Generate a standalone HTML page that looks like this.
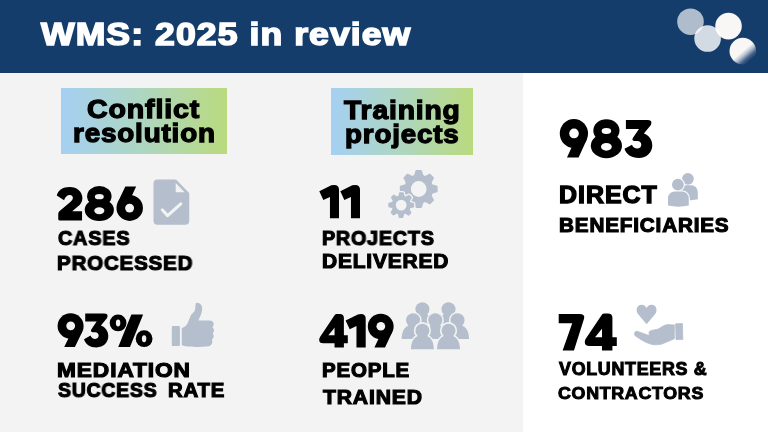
<!DOCTYPE html>
<html><head><meta charset="utf-8"><title>WMS: 2025 in review</title>
<style>
html,body{margin:0;padding:0}
body{width:768px;height:432px;overflow:hidden;position:relative;background:#fff;font-family:"Liberation Sans",sans-serif}
.hdr{position:absolute;left:0;top:0;width:768px;height:72.8px;background:#143d6b}
.left{position:absolute;left:0;top:72.8px;width:522.5px;height:359.2px;background:#f3f3f3}
.gb{position:absolute;background:linear-gradient(90deg,#a5d0f2 0%,#aed6c0 50%,#b9da7e 100%)}
.t{position:absolute;white-space:nowrap;line-height:1;font-weight:bold;transform-origin:0 0;paint-order:stroke fill;will-change:transform;-webkit-font-smoothing:antialiased}
.ic{position:absolute;left:0;top:0}
</style></head><body>
<div class="hdr"></div>
<div class="left"></div>
<div class="gb" style="left:61px;top:88px;width:166px;height:66px"></div>
<div class="gb" style="left:331px;top:88px;width:142px;height:67px"></div>
<svg class="ic" width="768" height="432" viewBox="0 0 768 432">
<defs>
<linearGradient id="g4" x1="0.175" y1="0.12" x2="0.825" y2="0.88"><stop offset="0" stop-color="#f8f7f6"/><stop offset="0.5" stop-color="#f8f7f6"/><stop offset="0.65" stop-color="#b3bfce"/><stop offset="0.81" stop-color="#45638a"/><stop offset="0.95" stop-color="#143d6b"/></linearGradient>
</defs>
<circle cx="690.5" cy="21.7" r="13.3" fill="#fff" fill-opacity="0.66"/>
<circle cx="728.5" cy="26.1" r="13.3" fill="#f8f7f6"/>
<circle cx="707.6" cy="38.5" r="13.3" fill="#fff" fill-opacity="0.81"/>
<circle cx="742.8" cy="51.1" r="13.3" fill="url(#g4)"/>
<path d="M157.5 179.5 H175 Q176 179.5 176.8 180.3 L188.4 192.3 Q189.25 193.2 189.25 194.3 V220.8 a4 4 0 0 1 -4 4 H157.5 a4 4 0 0 1 -4 -4 V183.5 a4 4 0 0 1 4 -4 Z" fill="#b4becd"/>
<path d="M175.7 183 V192.2 H184.6 Z" fill="#f3f3f3"/>
<path d="M162.4 210 L167.6 215.6 L180.8 203.9" fill="none" stroke="#f3f3f3" stroke-width="3.1" stroke-linecap="round" stroke-linejoin="round"/>
<g fill="#b4becd"><circle cx="418.7" cy="189" r="14.4"/><path d="M416.20 170.10 H421.20 Q421.80 170.10 421.90 170.70 L423.50 175.80 V189.00 H413.90 V175.80 L415.50 170.70 Q415.60 170.10 416.20 170.10 Z" transform="rotate(0.0 418.7 189)"/><path d="M416.20 170.10 H421.20 Q421.80 170.10 421.90 170.70 L423.50 175.80 V189.00 H413.90 V175.80 L415.50 170.70 Q415.60 170.10 416.20 170.10 Z" transform="rotate(45.0 418.7 189)"/><path d="M416.20 170.10 H421.20 Q421.80 170.10 421.90 170.70 L423.50 175.80 V189.00 H413.90 V175.80 L415.50 170.70 Q415.60 170.10 416.20 170.10 Z" transform="rotate(90.0 418.7 189)"/><path d="M416.20 170.10 H421.20 Q421.80 170.10 421.90 170.70 L423.50 175.80 V189.00 H413.90 V175.80 L415.50 170.70 Q415.60 170.10 416.20 170.10 Z" transform="rotate(135.0 418.7 189)"/><path d="M416.20 170.10 H421.20 Q421.80 170.10 421.90 170.70 L423.50 175.80 V189.00 H413.90 V175.80 L415.50 170.70 Q415.60 170.10 416.20 170.10 Z" transform="rotate(180.0 418.7 189)"/><path d="M416.20 170.10 H421.20 Q421.80 170.10 421.90 170.70 L423.50 175.80 V189.00 H413.90 V175.80 L415.50 170.70 Q415.60 170.10 416.20 170.10 Z" transform="rotate(225.0 418.7 189)"/><path d="M416.20 170.10 H421.20 Q421.80 170.10 421.90 170.70 L423.50 175.80 V189.00 H413.90 V175.80 L415.50 170.70 Q415.60 170.10 416.20 170.10 Z" transform="rotate(270.0 418.7 189)"/><path d="M416.20 170.10 H421.20 Q421.80 170.10 421.90 170.70 L423.50 175.80 V189.00 H413.90 V175.80 L415.50 170.70 Q415.60 170.10 416.20 170.10 Z" transform="rotate(315.0 418.7 189)"/></g><circle cx="418.7" cy="189" r="7.9" fill="#f3f3f3"/>
<g fill="#f3f3f3" stroke="#f3f3f3" stroke-width="2.6" stroke-linejoin="round"><circle cx="401.2" cy="205.1" r="9.5"/><path d="M399.65 192.20 H402.75 Q403.35 192.20 403.45 192.80 L404.50 196.80 V205.10 H397.90 V196.80 L398.95 192.80 Q399.05 192.20 399.65 192.20 Z" transform="rotate(1.0 401.2 205.1)"/><path d="M399.65 192.20 H402.75 Q403.35 192.20 403.45 192.80 L404.50 196.80 V205.10 H397.90 V196.80 L398.95 192.80 Q399.05 192.20 399.65 192.20 Z" transform="rotate(46.0 401.2 205.1)"/><path d="M399.65 192.20 H402.75 Q403.35 192.20 403.45 192.80 L404.50 196.80 V205.10 H397.90 V196.80 L398.95 192.80 Q399.05 192.20 399.65 192.20 Z" transform="rotate(91.0 401.2 205.1)"/><path d="M399.65 192.20 H402.75 Q403.35 192.20 403.45 192.80 L404.50 196.80 V205.10 H397.90 V196.80 L398.95 192.80 Q399.05 192.20 399.65 192.20 Z" transform="rotate(136.0 401.2 205.1)"/><path d="M399.65 192.20 H402.75 Q403.35 192.20 403.45 192.80 L404.50 196.80 V205.10 H397.90 V196.80 L398.95 192.80 Q399.05 192.20 399.65 192.20 Z" transform="rotate(181.0 401.2 205.1)"/><path d="M399.65 192.20 H402.75 Q403.35 192.20 403.45 192.80 L404.50 196.80 V205.10 H397.90 V196.80 L398.95 192.80 Q399.05 192.20 399.65 192.20 Z" transform="rotate(226.0 401.2 205.1)"/><path d="M399.65 192.20 H402.75 Q403.35 192.20 403.45 192.80 L404.50 196.80 V205.10 H397.90 V196.80 L398.95 192.80 Q399.05 192.20 399.65 192.20 Z" transform="rotate(271.0 401.2 205.1)"/><path d="M399.65 192.20 H402.75 Q403.35 192.20 403.45 192.80 L404.50 196.80 V205.10 H397.90 V196.80 L398.95 192.80 Q399.05 192.20 399.65 192.20 Z" transform="rotate(316.0 401.2 205.1)"/></g><g fill="#b4becd"><circle cx="401.2" cy="205.1" r="9.5"/><path d="M399.65 192.20 H402.75 Q403.35 192.20 403.45 192.80 L404.50 196.80 V205.10 H397.90 V196.80 L398.95 192.80 Q399.05 192.20 399.65 192.20 Z" transform="rotate(1.0 401.2 205.1)"/><path d="M399.65 192.20 H402.75 Q403.35 192.20 403.45 192.80 L404.50 196.80 V205.10 H397.90 V196.80 L398.95 192.80 Q399.05 192.20 399.65 192.20 Z" transform="rotate(46.0 401.2 205.1)"/><path d="M399.65 192.20 H402.75 Q403.35 192.20 403.45 192.80 L404.50 196.80 V205.10 H397.90 V196.80 L398.95 192.80 Q399.05 192.20 399.65 192.20 Z" transform="rotate(91.0 401.2 205.1)"/><path d="M399.65 192.20 H402.75 Q403.35 192.20 403.45 192.80 L404.50 196.80 V205.10 H397.90 V196.80 L398.95 192.80 Q399.05 192.20 399.65 192.20 Z" transform="rotate(136.0 401.2 205.1)"/><path d="M399.65 192.20 H402.75 Q403.35 192.20 403.45 192.80 L404.50 196.80 V205.10 H397.90 V196.80 L398.95 192.80 Q399.05 192.20 399.65 192.20 Z" transform="rotate(181.0 401.2 205.1)"/><path d="M399.65 192.20 H402.75 Q403.35 192.20 403.45 192.80 L404.50 196.80 V205.10 H397.90 V196.80 L398.95 192.80 Q399.05 192.20 399.65 192.20 Z" transform="rotate(226.0 401.2 205.1)"/><path d="M399.65 192.20 H402.75 Q403.35 192.20 403.45 192.80 L404.50 196.80 V205.10 H397.90 V196.80 L398.95 192.80 Q399.05 192.20 399.65 192.20 Z" transform="rotate(271.0 401.2 205.1)"/><path d="M399.65 192.20 H402.75 Q403.35 192.20 403.45 192.80 L404.50 196.80 V205.10 H397.90 V196.80 L398.95 192.80 Q399.05 192.20 399.65 192.20 Z" transform="rotate(316.0 401.2 205.1)"/></g><circle cx="401.2" cy="205.1" r="5.4" fill="#f3f3f3"/>
<rect x="171.8" y="325.9" width="8.1" height="20.2" rx="1.2" fill="#b4becd"/>
<path d="M181.8 327.9 C184.5 327.5 186.5 325.5 187.8 322.8 L190.8 315.6 C191.8 313.4 194.6 312.4 195.2 309 L195.6 304.2 C195.8 302.6 198.2 302.6 199.6 303.4 C202 304.8 202.6 308 202 311 C201.4 314.4 199.4 317.8 198.4 320.4 L210 320.6 C213 320.8 214.4 323.6 213.4 325.6 L212.4 327.2 C214.2 328.6 214.6 331.2 212.8 333.4 C214.2 335 214 338 211.9 339.7 C212.9 341.6 212.4 344.4 209.6 346 C205 347 192 347.2 187.6 346.6 C185 346.2 183.4 345.4 181.8 344.9 Z" fill="#b4becd"/>
<g fill="#f3f3f3" stroke="#f3f3f3" stroke-width="3.2" stroke-linejoin="round"><circle cx="422.4" cy="309.2" r="7.0"/><path d="M410.90 327.80 C411.20 319.80 413.90 315.30 419.00 314.20 L425.80 314.20 C430.90 315.30 433.60 319.80 433.90 327.80 Z"/></g><g fill="#b4becd"><circle cx="422.4" cy="309.2" r="7.0"/><path d="M410.90 327.80 C411.20 319.80 413.90 315.30 419.00 314.20 L425.80 314.20 C430.90 315.30 433.60 319.80 433.90 327.80 Z"/></g>
<g fill="#f3f3f3" stroke="#f3f3f3" stroke-width="3.2" stroke-linejoin="round"><circle cx="448.5" cy="309.2" r="7.0"/><path d="M437.00 327.80 C437.30 319.80 440.00 315.30 445.10 314.20 L451.90 314.20 C457.00 315.30 459.70 319.80 460.00 327.80 Z"/></g><g fill="#b4becd"><circle cx="448.5" cy="309.2" r="7.0"/><path d="M437.00 327.80 C437.30 319.80 440.00 315.30 445.10 314.20 L451.90 314.20 C457.00 315.30 459.70 319.80 460.00 327.80 Z"/></g>
<g fill="#f3f3f3" stroke="#f3f3f3" stroke-width="3.2" stroke-linejoin="round"><circle cx="413.1" cy="320.3" r="7.0"/><path d="M401.60 338.90 C401.90 330.90 404.60 326.40 409.70 325.30 L416.50 325.30 C421.60 326.40 424.30 330.90 424.60 338.90 Z"/></g><g fill="#b4becd"><circle cx="413.1" cy="320.3" r="7.0"/><path d="M401.60 338.90 C401.90 330.90 404.60 326.40 409.70 325.30 L416.50 325.30 C421.60 326.40 424.30 330.90 424.60 338.90 Z"/></g>
<g fill="#f3f3f3" stroke="#f3f3f3" stroke-width="3.2" stroke-linejoin="round"><circle cx="435.3" cy="320.3" r="7.0"/><path d="M423.80 338.90 C424.10 330.90 426.80 326.40 431.90 325.30 L438.70 325.30 C443.80 326.40 446.50 330.90 446.80 338.90 Z"/></g><g fill="#b4becd"><circle cx="435.3" cy="320.3" r="7.0"/><path d="M423.80 338.90 C424.10 330.90 426.80 326.40 431.90 325.30 L438.70 325.30 C443.80 326.40 446.50 330.90 446.80 338.90 Z"/></g>
<g fill="#f3f3f3" stroke="#f3f3f3" stroke-width="3.2" stroke-linejoin="round"><circle cx="457.5" cy="320.3" r="7.0"/><path d="M446.00 338.90 C446.30 330.90 449.00 326.40 454.10 325.30 L460.90 325.30 C466.00 326.40 468.70 330.90 469.00 338.90 Z"/></g><g fill="#b4becd"><circle cx="457.5" cy="320.3" r="7.0"/><path d="M446.00 338.90 C446.30 330.90 449.00 326.40 454.10 325.30 L460.90 325.30 C466.00 326.40 468.70 330.90 469.00 338.90 Z"/></g>
<g fill="#f3f3f3" stroke="#f3f3f3" stroke-width="3.2" stroke-linejoin="round"><circle cx="422.4" cy="330.7" r="7.0"/><path d="M410.90 349.30 C411.20 341.30 413.90 336.80 419.00 335.70 L425.80 335.70 C430.90 336.80 433.60 341.30 433.90 349.30 Z"/></g><g fill="#b4becd"><circle cx="422.4" cy="330.7" r="7.0"/><path d="M410.90 349.30 C411.20 341.30 413.90 336.80 419.00 335.70 L425.80 335.70 C430.90 336.80 433.60 341.30 433.90 349.30 Z"/></g>
<g fill="#f3f3f3" stroke="#f3f3f3" stroke-width="3.2" stroke-linejoin="round"><circle cx="448.5" cy="330.7" r="7.0"/><path d="M437.00 349.30 C437.30 341.30 440.00 336.80 445.10 335.70 L451.90 335.70 C457.00 336.80 459.70 341.30 460.00 349.30 Z"/></g><g fill="#b4becd"><circle cx="448.5" cy="330.7" r="7.0"/><path d="M437.00 349.30 C437.30 341.30 440.00 336.80 445.10 335.70 L451.90 335.70 C457.00 336.80 459.70 341.30 460.00 349.30 Z"/></g>

<g fill="#b4becd"><circle cx="687.9" cy="178.8" r="5.9"/><path d="M678.0 199.3 V191.79999999999998 a6.6 6.6 0 0 1 6.6 -6.6 H691.1999999999999 a6.6 6.6 0 0 1 6.6 6.6 V199.3 Q687.9 201.5 678.0 199.3 Z"/></g><g fill="#ffffff" stroke="#ffffff" stroke-width="2.2"><circle cx="677.9" cy="184.6" r="5.9"/><path d="M668.0 205.6 V198.2 a6.6 6.6 0 0 1 6.6 -6.6 H682.15 a6.6 6.6 0 0 1 6.6 6.6 V205.6 Q678.375 207.79999999999998 668.0 205.6 Z"/></g><g fill="#b4becd"><circle cx="677.9" cy="184.6" r="5.9"/><path d="M668.0 205.6 V198.2 a6.6 6.6 0 0 1 6.6 -6.6 H682.15 a6.6 6.6 0 0 1 6.6 6.6 V205.6 Q678.375 207.79999999999998 668.0 205.6 Z"/></g>
<path d="M646.6 324.3 L638.4 314.6 C635.6 311 636.2 306.2 640.2 305 C643 304.2 645.6 305.6 646.6 308 C647.6 305.6 650.2 304.2 653 305 C657 306.2 657.6 311 654.8 314.6 Z" fill="#b4becd"/>
<path d="M675.6 323.8 L682.4 323.6 L682.8 339.4 L676 339.5 Z" fill="#b4becd" stroke="#b4becd" stroke-width="0.8" stroke-linejoin="round"/>
<path d="M674.3 325 L667.6 324.6 C664 325 661 327.6 658 329.2 L651.4 330.4 C649.4 330.8 648.6 332.4 649.2 333.8 L649 335.6 L637.6 331.4 C635.2 330.6 633.6 333.4 635 335.6 C640 339.4 647 343.6 653 344.6 C656 345 659 344.8 662 344 L674.3 338.8 Z" fill="#b4becd" stroke="#b4becd" stroke-width="0.8" stroke-linejoin="round"/>
<g fill="#000" transform="translate(56.75 186.90) scale(0.3397 0.3360)"><path d="M0,25.5 C3.5,10 18,0 38,0 C60,0 75.5,14 75.5,33 C75.5,45 70,52 62,58.5 L45.5,72.6 L74.5,72.6 L74.5,100 L9,100 Q4.4,100 4.4,95.5 L4.4,81 Q4.4,75.5 8.5,72 L40,45 C45.5,40.5 47.5,36.5 47.5,32.5 C47.5,27 43.5,24 38.5,24 C30.5,24 25,30 21.5,40 Z"/></g>
<g fill="#000" transform="translate(84.75 186.20) scale(0.3599 0.3460)"><ellipse cx="40.5" cy="29" rx="34" ry="29.3"/><ellipse cx="40.5" cy="68.5" rx="40.5" ry="32"/><ellipse cx="40.5" cy="30.2" rx="12.4" ry="7.6" fill="#f3f3f3"/><ellipse cx="40.5" cy="71" rx="14" ry="10" fill="#f3f3f3"/></g>
<g fill="#000" transform="translate(116.40 186.50) scale(0.3500 0.3430)"><g transform="rotate(180 38.0 50)"><circle cx="38" cy="37.5" r="37.8"/><path d="M19.5,100 L50.5,100 L72.24,53.51 L38,37.5 L32.98,71.18 Z"/><circle cx="38.3" cy="37.0" r="12.8" fill="#f3f3f3"/></g></g>
<g fill="#000" transform="translate(57.50 313.40) scale(0.3447 0.3370)"><circle cx="38" cy="37.5" r="37.8"/><path d="M19.5,100 L50.5,100 L72.24,53.51 L38,37.5 L32.98,71.18 Z"/><circle cx="38.3" cy="37.0" r="12.8" fill="#f3f3f3"/></g>
<g fill="#000" transform="translate(84.00 313.60) scale(0.3320 0.3380)"><path d="M3.7,0 L60,0 Q75,0 69.5,13 L51,35.5 C64,40 73.2,52 73.2,66.5 C73.2,86 58,100 38,100 C18,100 4,90 0,75.6 L19.8,65 C22,71.5 27,75 33.5,75 C40,75 44.2,70.5 44.2,65 C44.2,59 40,54.9 33.5,54.9 L27,54.9 Q18,54 22,47 L38.1,23.2 L3.7,23.2 Z"/></g>
<g fill="#000" transform="translate(109.70 313.60) scale(0.3354 0.3350)"><circle cx="25" cy="28" r="25"/><circle cx="102.6" cy="75" r="25"/><path d="M64.6,2.9 L99.6,2.9 L60.5,100 L25.5,100 Z"/><ellipse cx="25" cy="28" rx="6.6" ry="10.2" fill="#f3f3f3"/><ellipse cx="102.6" cy="75" rx="6.6" ry="10.2" fill="#f3f3f3"/></g>
<g fill="#000" transform="translate(319.30 184.90) scale(0.3339 0.3340)"><path d="M0,19.1 L36,1.3 Q39.5,0 45,0 Q59,0 59,14 L59,100 L31.9,100 L31.9,36 L12.1,45.3 Z"/></g>
<g fill="#000" transform="translate(340.30 184.90) scale(0.3339 0.3340)"><path d="M0,19.1 L36,1.3 Q39.5,0 45,0 Q59,0 59,14 L59,100 L31.9,100 L31.9,36 L12.1,45.3 Z"/></g>
<g fill="#000" transform="translate(319.00 314.10) scale(0.3349 0.3330)"><path d="M47,2.5 Q49,0 52.5,0 L62,0 Q74.3,0 74.3,12 L74.3,63.8 L86,63.8 L86,87.6 L74.3,87.6 L74.3,100 L46.4,100 L46.4,87.6 L13,87.6 Q0,87.6 0.5,76 Q1,71 4,67 Z"/><path d="M27.9,63.8 L46.4,63.8 L46.4,41.2 Z" fill="#f3f3f3"/></g>
<g fill="#000" transform="translate(345.60 314.10) scale(0.3407 0.3330)"><path d="M0,19.1 L36,1.3 Q39.5,0 45,0 Q59,0 59,14 L59,100 L31.9,100 L31.9,36 L12.1,45.3 Z"/></g>
<g fill="#000" transform="translate(367.75 313.80) scale(0.3414 0.3360)"><circle cx="38" cy="37.5" r="37.8"/><path d="M19.5,100 L50.5,100 L72.24,53.51 L38,37.5 L32.98,71.18 Z"/><circle cx="38.3" cy="37.0" r="12.8" fill="#f3f3f3"/></g>
<g fill="#000" transform="translate(559.70 119.20) scale(0.3737 0.3840)"><circle cx="38" cy="37.5" r="37.8"/><path d="M19.5,100 L50.5,100 L72.24,53.51 L38,37.5 L32.98,71.18 Z"/><circle cx="38.3" cy="37.0" r="12.8" fill="#ffffff"/></g>
<g fill="#000" transform="translate(590.80 119.30) scale(0.3852 0.3870)"><ellipse cx="40.5" cy="29" rx="34" ry="29.3"/><ellipse cx="40.5" cy="68.5" rx="40.5" ry="32"/><ellipse cx="40.5" cy="30.2" rx="12.4" ry="7.6" fill="#ffffff"/><ellipse cx="40.5" cy="71" rx="14" ry="10" fill="#ffffff"/></g>
<g fill="#000" transform="translate(624.50 120.10) scale(0.3798 0.3790)"><path d="M3.7,0 L60,0 Q75,0 69.5,13 L51,35.5 C64,40 73.2,52 73.2,66.5 C73.2,86 58,100 38,100 C18,100 4,90 0,75.6 L19.8,65 C22,71.5 27,75 33.5,75 C40,75 44.2,70.5 44.2,65 C44.2,59 40,54.9 33.5,54.9 L27,54.9 Q18,54 22,47 L38.1,23.2 L3.7,23.2 Z"/></g>
<g fill="#000" transform="translate(558.70 313.90) scale(0.3671 0.3670)"><path d="M0,0 L56,0 Q73,0 69,13 L41.6,100 L10.7,100 L36.9,25.2 L0,25.2 Z"/></g>
<g fill="#000" transform="translate(584.60 313.40) scale(0.3744 0.3720)"><path d="M47,2.5 Q49,0 52.5,0 L62,0 Q74.3,0 74.3,12 L74.3,63.8 L86,63.8 L86,87.6 L74.3,87.6 L74.3,100 L46.4,100 L46.4,87.6 L13,87.6 Q0,87.6 0.5,76 Q1,71 4,67 Z"/><path d="M27.9,63.8 L46.4,63.8 L46.4,41.2 Z" fill="#ffffff"/></g>
</svg>
<div class="t" style="left:41.47px;top:20.12px;font-size:30.95px;color:#fff;-webkit-text-stroke:1.55px #fff;letter-spacing:0.93px;transform:scaleX(1.1502)">WMS: 2025 in review</div>
<div class="t" style="left:87.43px;top:96.24px;font-size:26.35px;color:#000;-webkit-text-stroke:1.32px #000;letter-spacing:0.79px;transform:scaleX(1.0842)">Conflict</div>
<div class="t" style="left:72.89px;top:119.94px;font-size:26.35px;color:#000;-webkit-text-stroke:1.32px #000;letter-spacing:0.79px;transform:scaleX(1.0562)">resolution</div>
<div class="t" style="left:344.28px;top:96.74px;font-size:26.35px;color:#000;-webkit-text-stroke:1.32px #000;letter-spacing:0.79px;transform:scaleX(1.0723)">Training</div>
<div class="t" style="left:344.89px;top:121.24px;font-size:26.35px;color:#000;-webkit-text-stroke:1.32px #000;letter-spacing:0.79px;transform:scaleX(1.0520)">projects</div>
<div class="t" style="left:57.80px;top:227.71px;font-size:20.48px;color:#000;-webkit-text-stroke:1.17px #000;letter-spacing:0.82px;transform:scaleX(0.9683)">CASES</div>
<div class="t" style="left:57.18px;top:252.77px;font-size:20.75px;color:#000;-webkit-text-stroke:1.18px #000;letter-spacing:0.83px;transform:scaleX(0.9889)">PROCESSED</div>
<div class="t" style="left:57.09px;top:360.06px;font-size:20.08px;color:#000;-webkit-text-stroke:1.14px #000;letter-spacing:0.80px;transform:scaleX(1.1308)">MEDIATION</div>
<div class="t" style="left:58.00px;top:380.36px;font-size:20.08px;color:#000;-webkit-text-stroke:1.14px #000;letter-spacing:0.80px;transform:scaleX(0.9684)">SUCCESS</div>
<div class="t" style="left:168.39px;top:380.36px;font-size:20.08px;color:#000;-webkit-text-stroke:1.14px #000;letter-spacing:0.80px;transform:scaleX(1.0143)">RATE</div>
<div class="t" style="left:322.41px;top:228.88px;font-size:19.95px;color:#000;-webkit-text-stroke:1.14px #000;letter-spacing:0.80px;transform:scaleX(0.9902)">PROJECTS</div>
<div class="t" style="left:322.36px;top:251.78px;font-size:19.95px;color:#000;-webkit-text-stroke:1.14px #000;letter-spacing:0.80px;transform:scaleX(1.0496)">DELIVERED</div>
<div class="t" style="left:322.38px;top:360.98px;font-size:19.95px;color:#000;-webkit-text-stroke:1.14px #000;letter-spacing:0.80px;transform:scaleX(1.0277)">PEOPLE</div>
<div class="t" style="left:323.02px;top:386.54px;font-size:20.21px;color:#000;-webkit-text-stroke:1.15px #000;letter-spacing:0.81px;transform:scaleX(1.0464)">TRAINED</div>
<div class="t" style="left:559.00px;top:184.32px;font-size:23.43px;color:#000;-webkit-text-stroke:1.34px #000;letter-spacing:0.94px;transform:scaleX(1.0644)">DIRECT</div>
<div class="t" style="left:559.17px;top:214.94px;font-size:20.21px;color:#000;-webkit-text-stroke:1.15px #000;letter-spacing:0.81px;transform:scaleX(1.0243)">BENEFICIARIES</div>
<div class="t" style="left:559.04px;top:361.37px;font-size:17.74px;color:#000;-webkit-text-stroke:1.01px #000;letter-spacing:0.71px;transform:scaleX(1.0070)">VOLUNTEERS &amp;</div>
<div class="t" style="left:558.32px;top:385.01px;font-size:17.40px;color:#000;-webkit-text-stroke:0.99px #000;letter-spacing:0.70px;transform:scaleX(1.0236)">CONTRACTORS</div>
</body></html>
